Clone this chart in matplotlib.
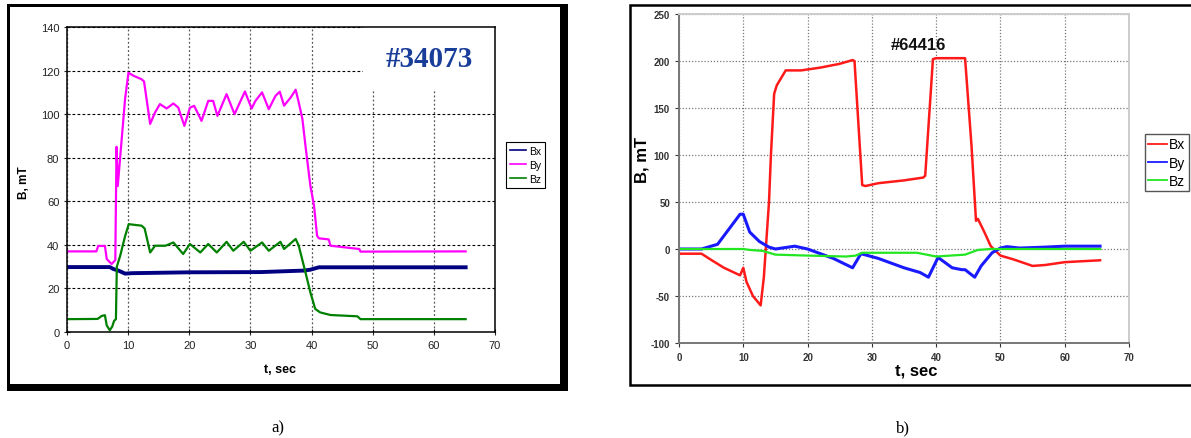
import matplotlib
matplotlib.use("Agg")
import matplotlib.pyplot as plt
from matplotlib.patches import Rectangle

plt.rcParams["font.family"] = ["Liberation Sans", "DejaVu Sans"]
plt.rcParams["axes.unicode_minus"] = False

# ---- panneau a) : #34073 ----
t_bx_a = [0, 7.0, 7.6, 8.4, 9.5, 10.6, 20, 31.6, 38.8, 39.8, 41.2, 65.2]
bx_a = [29.8, 29.8, 28.9, 28.2, 26.8, 27.0, 27.4, 27.5, 28.2, 28.6, 29.7, 29.7]

t_by_a = [0, 4.8, 5.1, 6.2, 6.5, 7.3, 7.9, 8.1, 8.3, 8.9, 9.5, 10.05, 10.9, 12.2,
          12.6, 13.6, 14.4, 15.2, 16.3, 17.4, 18.2, 19.2, 20.1, 20.8, 22.0, 23.1,
          23.9, 24.6, 26.1, 27.4, 29.1, 30.2, 30.8, 31.9, 33.0, 34.1, 34.8, 35.5,
          36.6, 37.4, 37.9, 38.5, 39.0, 39.8, 40.4, 40.9, 41.2, 42.8, 43.1, 47.8,
          48.0, 65.2]
by_a = [37, 37, 39.5, 39.5, 33.5, 31.2, 33, 85, 67, 87, 107, 119, 117.6, 116,
        115, 95.5, 100.8, 104.6, 102.6, 104.9, 103, 94.6, 103, 103.8, 96.9, 106.1,
        106.1, 99.2, 109.2, 100, 110.4, 102.6, 106, 110, 102.3, 108.4, 110.3, 103.9,
        107.7, 111.2, 105.4, 97.8, 85.5, 67.2, 58, 44.2, 43, 42.5, 39.6, 38.1,
        36.9, 37]

t_bz_a = [0, 5.0, 5.7, 6.2, 6.5, 7.0, 7.4, 7.7, 8.0, 8.15, 8.7, 9.5, 10.1, 12.2,
          12.7, 13.6, 14.4, 16.1, 17.4, 19.0, 20.1, 21.8, 23.1, 24.5, 26.1, 27.2,
          28.9, 30.0, 31.9, 33.0, 34.9, 35.5, 37.4, 37.9, 39.0, 39.8, 40.6, 41.4,
          43.1, 47.5, 48.0, 65.2]
bz_a = [5.9, 6.0, 7.4, 7.7, 3.0, 0.8, 2.5, 5.1, 5.9, 30, 35, 44, 49.5, 48.8,
        47.5, 36.5, 39.6, 39.6, 41.1, 35.8, 40.4, 36.5, 40.4, 36.5, 41.4, 37.3,
        41.4, 37.3, 41.1, 37.3, 41.4, 38.1, 42.7, 39.6, 27.4, 18.2, 10.6, 9.0,
        7.8, 7.2, 5.9, 5.9]

# ---- panneau b) : #64416 ----
t_bx_b = [0, 3.5, 5.1, 7.0, 9.5, 10.0, 10.5, 11.5, 12.7, 13.2, 13.5, 14.0, 14.3,
          14.8, 15.2, 16.6, 19, 22, 25, 27.0, 27.3, 28.5, 29, 31, 35, 38.0, 38.3,
          39.5, 40, 44.5, 45.5, 46.2, 46.5, 47.5, 48.5, 50, 52, 55, 57, 60, 65.5]
bx_b = [-5, -5, -12, -20, -28, -20, -35, -50, -60, -30, 0, 50, 100,
        165, 174, 190, 190, 193, 197, 201, 200, 68, 67, 70, 73, 76, 78,
        202, 203, 203, 110, 30, 32, 18, 3, -7, -11, -18, -17, -14, -12]

t_by_b = [0, 3.5, 6, 9.5, 10.0, 11.0, 12.5, 14, 15, 17, 18, 20, 22, 24, 27, 28.3,
          31, 35, 37.5, 38.8, 40.3, 42.5, 44, 44.5, 46, 47, 48.7, 50, 51, 53, 57,
          60, 65.5]
by_b = [0, 0, 5, 37, 37, 18, 8, 2, 0, 2, 3, 0, -5, -10, -20, -5,
        -10, -20, -25, -30, -9, -20, -22, -22, -30, -18, -4, 1, 2.5, 1, 2,
        3, 3]

t_bz_b = [0, 10, 11, 13, 15, 20, 26, 27.5, 28.5, 37, 38.5, 40, 44.5, 46.5, 48.5, 65.5]
bz_b = [0, 0, -1, -2, -6, -7, -8, -7, -4, -4, -6, -8, -6, -1, 0, 0]

W, H = 1191, 439
fig = plt.figure(figsize=(W / 100, H / 100), dpi=100)


def fx(px):
    return px / W


def fy(py):
    return 1 - py / H


# cadres
fig.patches.append(Rectangle((fx(7), fy(392)), fx(561), (392 - 5) / H,
                             transform=fig.transFigure, facecolor="black", zorder=-5))
fig.patches.append(Rectangle((fx(10), fy(385)), fx(550), (385 - 8) / H,
                             transform=fig.transFigure, facecolor="white", zorder=-4))
fig.patches.append(Rectangle((fx(630), fy(386)), fx(600), (386 - 6) / H,
                             transform=fig.transFigure, facecolor="white",
                             edgecolor="black", linewidth=1.8, zorder=-5))

# ---- a) ----
ax1 = fig.add_axes([fx(67), fy(333), fx(495 - 67), (333 - 28) / H])
ax1.plot(t_bx_a, bx_a, color="#000080", lw=2.8, label="Bx")
ax1.plot(t_by_a, by_a, color="#ff00ff", lw=1.6, label="By")
ax1.plot(t_bz_a, bz_a, color="#008000", lw=1.6, label="Bz")
ax1.set_xlim(0, 70)
ax1.set_ylim(0, 140)
ax1.set_xticks(range(0, 71, 10))
ax1.set_yticks(range(0, 141, 20))
ax1.set_axisbelow(True)
ax1.yaxis.grid(True, color="black", linestyle=(0, (2.5, 2)), linewidth=0.8)
ax1.xaxis.grid(True, color="#555555", linestyle=(0, (1.5, 1.8)), linewidth=0.9)
ax1.tick_params(labelsize=8, colors="#222222", direction="inout", length=4)
for s in ax1.spines.values():
    s.set_color("black")
    s.set_linewidth(1.1)
ax1.add_patch(Rectangle((48.4, 111.5), 21.6, 28.5, facecolor="white",
                        edgecolor="none", zorder=1))
ax1.text(59.3, 125.5, "#34073", family="Liberation Serif", weight="bold",
         fontsize=21, color="#1a3d99", ha="center", va="center", zorder=3)
leg1 = ax1.legend(loc="upper left", bbox_to_anchor=(fx(506), fy(143)),
                  bbox_transform=fig.transFigure, borderaxespad=0, fontsize=7.5,
                  handlelength=1.6, handletextpad=0.3, labelspacing=0.4,
                  borderpad=0.35, fancybox=False, framealpha=1)
leg1.get_frame().set_edgecolor("black")
leg1.get_frame().set_linewidth(0.8)
for ln in leg1.get_lines():
    ln.set_linewidth(1.2)
fig.text(fx(24), fy(183), "B, mT", rotation=90, fontsize=8.5, weight="bold",
         ha="center", va="center")
fig.text(fx(280), fy(370), "t, sec", fontsize=9, weight="bold",
         ha="center", va="center")

# ---- b) ----
ax2 = fig.add_axes([fx(679), fy(344), fx(1129 - 679), (344 - 15) / H])
ax2.plot(t_bx_b, bx_b, color="#ff1a1a", lw=1.8, label="Bx")
ax2.plot(t_by_b, by_b, color="#1a1aff", lw=2.2, label="By")
ax2.plot(t_bz_b, bz_b, color="#22e622", lw=1.6, label="Bz")
ax2.set_xlim(0, 70)
ax2.set_ylim(-100, 250)
ax2.set_xticks(range(0, 71, 10))
ax2.set_yticks(range(-100, 251, 50))
ax2.set_axisbelow(True)
ax2.grid(True, color="#777777", linestyle=(0, (1, 1.5)), linewidth=0.9)
ax2.tick_params(labelsize=7, colors="#333333", direction="out", length=3)
for lab in ax2.get_xticklabels() + ax2.get_yticklabels():
    lab.set_fontweight("bold")
for side in ["left", "bottom"]:
    ax2.spines[side].set_color("#777777")
    ax2.spines[side].set_linewidth(1.4)
for side in ["top", "right"]:
    ax2.spines[side].set_color("#cccccc")
    ax2.spines[side].set_linewidth(1.4)
ax2.text(37.3, 218, "#64416", fontsize=12, weight="bold", ha="center",
         va="center", color="#111111")
leg2 = ax2.legend(loc="upper left", bbox_to_anchor=(fx(1145), fy(135)),
                  bbox_transform=fig.transFigure, borderaxespad=0, fontsize=10,
                  handlelength=1.3, handletextpad=0.2, labelspacing=0.3,
                  borderpad=0.25, fancybox=False, framealpha=1)
leg2.get_frame().set_edgecolor("#555555")
leg2.get_frame().set_linewidth(1.0)
for ln in leg2.get_lines():
    ln.set_linewidth(1.3)
fig.text(fx(642), fy(160), "B, mT", rotation=90, fontsize=12, weight="bold",
         ha="center", va="center")
fig.text(fx(916), fy(371), "t, sec", fontsize=12, weight="bold",
         ha="center", va="center")

# légendes a) et b)
fig.text(fx(278), fy(428), "a)", family="Liberation Serif", fontsize=12,
         ha="center", va="center")
fig.text(fx(903), fy(428), "b)", family="Liberation Serif", fontsize=12,
         ha="center", va="center")

fig.savefig("out.png", dpi=100)
